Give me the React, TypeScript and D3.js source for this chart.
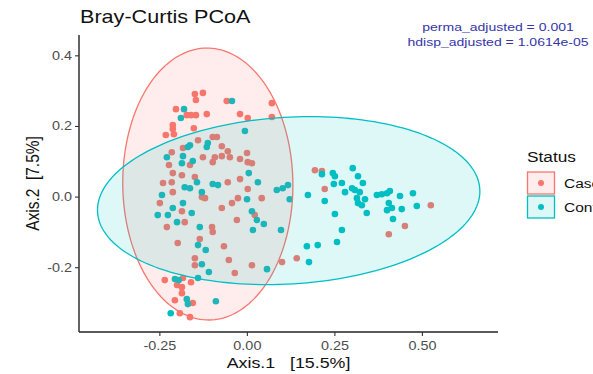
import React from "react";
import * as d3 from "d3";

// PCoA coordinates (Axis.1, Axis.2) per sample
const casePoints: [number, number][] = [
  [-0.150, 0.292], [-0.127, 0.295], [-0.147, 0.275], [-0.059, 0.272], [-0.204, 0.249],
  [-0.173, 0.232], [-0.161, 0.232], [-0.147, 0.232], [-0.116, 0.235], [0.070, 0.266],
  [-0.021, 0.235], [0.001, 0.224], [0.070, 0.227], [-0.213, 0.204], [-0.213, 0.193],
  [-0.210, 0.178], [-0.233, 0.176], [-0.153, 0.195], [-0.099, 0.170], [-0.087, 0.170],
  [-0.141, 0.161], [-0.184, 0.139], [-0.073, 0.144], [-0.056, 0.130], [-0.073, 0.116],
  [-0.050, 0.113], [-0.001, 0.125], [-0.216, 0.127], [-0.224, 0.091], [-0.164, 0.091],
  [-0.127, 0.113], [-0.099, 0.099], [-0.093, 0.113], [-0.021, 0.108], [0.001, 0.099],
  [0.013, 0.096], [-0.213, 0.068], [-0.187, 0.062], [-0.241, 0.040], [-0.216, 0.042],
  [-0.150, 0.057], [-0.056, 0.042], [-0.021, 0.051], [-0.213, 0.014], [-0.130, 0.000],
  [-0.121, -0.003], [-0.027, -0.003], [0.041, -0.003], [-0.250, -0.017], [-0.044, -0.017],
  [-0.073, -0.031], [-0.187, -0.040], [-0.179, -0.071], [-0.030, -0.065], [-0.230, -0.085],
  [-0.101, -0.085], [-0.099, -0.099], [-0.136, -0.119], [-0.199, -0.130], [-0.067, -0.139],
  [-0.150, -0.173], [-0.150, -0.193], [-0.053, -0.178], [0.013, -0.193], [-0.036, -0.215],
  [0.099, -0.184], [0.141, -0.173], [-0.236, -0.235], [-0.184, -0.229], [-0.161, -0.241],
  [-0.201, -0.249], [-0.187, -0.255], [-0.187, -0.272], [-0.207, -0.292], [-0.156, -0.300],
  [-0.193, -0.329], [-0.164, -0.340], [0.021, -0.051], [0.001, 0.023], [0.193, 0.076],
  [0.213, 0.074], [0.221, 0.023], [0.524, -0.023], [0.450, -0.082], [0.404, -0.105],
];

const controlPoints: [number, number][] = [
  [-0.044, 0.272], [-0.181, 0.249], [-0.190, 0.224], [-0.007, 0.187], [-0.164, 0.147],
  [-0.170, 0.142], [-0.113, 0.153], [-0.116, 0.142], [-0.230, 0.113], [-0.187, 0.096],
  [-0.156, 0.102], [-0.184, 0.116], [0.004, 0.068], [-0.144, 0.042], [-0.099, 0.037],
  [-0.084, 0.034], [-0.179, 0.028], [-0.164, 0.025], [0.030, 0.042], [-0.130, 0.014],
  [-0.244, 0.006], [-0.001, -0.006], [-0.184, -0.017], [-0.213, -0.031], [-0.159, -0.045],
  [-0.256, -0.051], [-0.227, -0.051], [-0.201, -0.071], [0.013, -0.040], [0.027, -0.065],
  [0.047, -0.076], [0.016, -0.093], [0.096, -0.093], [-0.136, -0.085], [-0.141, -0.136],
  [-0.119, -0.150], [-0.130, -0.190], [-0.110, -0.212], [0.056, -0.204], [-0.207, -0.232],
  [-0.196, -0.235], [-0.141, -0.229], [-0.173, -0.289], [-0.170, -0.303], [-0.090, -0.295],
  [-0.219, -0.329], [0.176, -0.184], [0.084, 0.020], [0.101, 0.025], [0.116, 0.034],
  [0.121, -0.006], [0.213, 0.065], [0.244, 0.068], [0.250, 0.059], [0.301, 0.082],
  [0.316, 0.059], [0.330, 0.040], [0.270, 0.040], [0.247, 0.037], [0.279, 0.014],
  [0.299, 0.025], [0.307, 0.020], [0.321, 0.014], [0.313, -0.003], [0.316, -0.017],
  [0.327, -0.023], [0.336, -0.006], [0.341, -0.045], [0.370, 0.006], [0.384, 0.008],
  [0.399, 0.011], [0.407, 0.017], [0.436, 0.003], [0.473, 0.011], [0.404, -0.017],
  [0.399, -0.037], [0.413, -0.031], [0.441, -0.034], [0.484, -0.025], [0.416, -0.062],
  [0.270, -0.093], [0.173, 0.006], [0.221, -0.011], [0.250, -0.048], [0.170, -0.139],
  [0.201, -0.136], [0.256, -0.127],
];

// 95% confidence ellipses: centre, semi-axes (data units), rotation (radians)
const caseEllipse = { cx: -0.113, cy: 0.037, a: 0.243, b: 0.385, angle: 0.01 };
const controlEllipse = { cx: 0.118, cy: -0.010, a: 0.547, b: 0.236, angle: 0.06 };

const groups = ["Case", "Control"];
const groupColors = ["#F8766D", "#00BFC4"];
const xTicks = [-0.25, 0, 0.25, 0.5];
const yTicks = [-0.2, 0, 0.2, 0.4];
const statLines = ["perma_adjusted = 0.001", "hdisp_adjusted = 1.0614e-05"];

const W = 593;
const H = 374;
const panel = { left: 79, right: 498, top: 35, bottom: 332 };

const x = d3.scaleLinear().domain([-0.481, 0.716]).range([panel.left, panel.right]);
const y = d3.scaleLinear().domain([-0.382, 0.459]).range([panel.bottom, panel.top]);

const locale = d3.formatLocale({
  decimal: ".",
  thousands: ",",
  grouping: [3],
  currency: ["", ""],
  minus: "-",
});
const fmtX = locale.format(".2f");
const fmtY = locale.format(".1f");

const FONT = "'Liberation Sans', Arial, Helvetica, sans-serif";

function ellipsePath(e: { cx: number; cy: number; a: number; b: number; angle: number }) {
  const pts = d3.range(0, 2 * Math.PI, Math.PI / 90).map((t) => {
    const ex = e.a * Math.cos(t);
    const ey = e.b * Math.sin(t);
    return [
      e.cx + ex * Math.cos(e.angle) - ey * Math.sin(e.angle),
      e.cy + ex * Math.sin(e.angle) + ey * Math.cos(e.angle),
    ] as [number, number];
  });
  return d3
    .line<[number, number]>()
    .x((d) => x(d[0]))
    .y((d) => y(d[1]))
    .curve(d3.curveLinearClosed)(pts) as string;
}

// Text stretched horizontally around its anchor point
function SText(props: {
  x: number;
  y: number;
  sx?: number;
  rotate?: number;
  size: number;
  fill?: string;
  anchor?: "start" | "middle" | "end";
  children: React.ReactNode;
}) {
  const { x: tx, y: ty, sx = 1.2, rotate, size, fill = "#000", anchor = "start", children } = props;
  return (
    <text
      transform={`translate(${tx},${ty}) scale(${sx},1)${rotate ? ` rotate(${rotate})` : ""}`}
      fontFamily={FONT}
      fontSize={size}
      fill={fill}
      textAnchor={anchor}
      style={{ whiteSpace: "pre" }}
    >
      {children}
    </text>
  );
}

export default function App() {
  const ellipses = [caseEllipse, controlEllipse];
  const pointSets = [casePoints, controlPoints];
  return (
    <svg
      width={W}
      height={H}
      viewBox={`0 0 ${W} ${H}`}
      style={{ position: "absolute", left: 0, top: 0, background: "#fff" }}
    >
      <rect width={W} height={H} fill="#fff" />

      {/* samples */}
      {pointSets.map((pts, gi) => (
        <g key={groups[gi]} fill={groupColors[gi]}>
          {pts.map((p, i) => (
            <circle key={i} cx={x(p[0])} cy={y(p[1])} r={3.3} />
          ))}
        </g>
      ))}

      {/* confidence ellipses */}
      {ellipses.map((e, gi) => (
        <path
          key={groups[gi]}
          d={ellipsePath(e)}
          fill={groupColors[gi]}
          fillOpacity={0.13}
          stroke={groupColors[gi]}
          strokeWidth={1.3}
        />
      ))}

      {/* axes */}
      <line x1={panel.left} x2={panel.left} y1={panel.top} y2={panel.bottom} stroke="#222" strokeWidth={1.4} />
      <line x1={panel.left} x2={panel.right} y1={panel.bottom} y2={panel.bottom} stroke="#222" strokeWidth={1.4} />
      {yTicks.map((t) => (
        <g key={`y${t}`}>
          <line x1={panel.left - 4} x2={panel.left} y1={y(t)} y2={y(t)} stroke="#333" strokeWidth={1.1} />
          <SText x={panel.left - 7} y={y(t) + 4} size={12} fill="#4d4d4d" anchor="end">
            {fmtY(t)}
          </SText>
        </g>
      ))}
      {xTicks.map((t) => (
        <g key={`x${t}`}>
          <line x1={x(t)} x2={x(t)} y1={panel.bottom} y2={panel.bottom + 4} stroke="#333" strokeWidth={1.1} />
          <SText x={x(t)} y={350} size={12} fill="#4d4d4d" anchor="middle">
            {fmtX(t)}
          </SText>
        </g>
      ))}

      {/* axis titles */}
      <SText x={(panel.left + panel.right) / 2} y={368} size={15.5} sx={1.15} anchor="middle" fill="#111">
        {"Axis.1   [15.5%]"}
      </SText>
      <SText x={39} y={(panel.top + panel.bottom) / 2} size={15.5} sx={1.15} rotate={-90} anchor="middle" fill="#111">
        {"Axis.2  [7.5%]"}
      </SText>

      {/* title */}
      <SText x={80} y={23} size={18} sx={1.2} fill="#111">
        Bray-Curtis PCoA
      </SText>

      {/* test statistics */}
      {statLines.map((s, i) => (
        <SText key={s} x={498} y={31 + i * 15} size={11.5} sx={1.22} anchor="middle" fill="#3535a8">
          {s}
        </SText>
      ))}

      {/* legend */}
      <SText x={527} y={162} size={15} sx={1.15} fill="#111">
        Status
      </SText>
      {groups.map((g, i) => {
        const ky = 172 + i * 24;
        return (
          <g key={g}>
            <rect x={527.5} y={ky} width={27} height={22} fill="#fff" />
            <rect
              x={527.5}
              y={ky}
              width={27}
              height={22}
              fill={groupColors[i]}
              fillOpacity={0.13}
              stroke={groupColors[i]}
              strokeWidth={1.3}
            />
            <circle cx={541} cy={ky + 11} r={3} fill={groupColors[i]} />
            <SText x={564} y={ky + 16} size={13.5} sx={1.15} fill="#111">
              {g}
            </SText>
          </g>
        );
      })}
    </svg>
  );
}
